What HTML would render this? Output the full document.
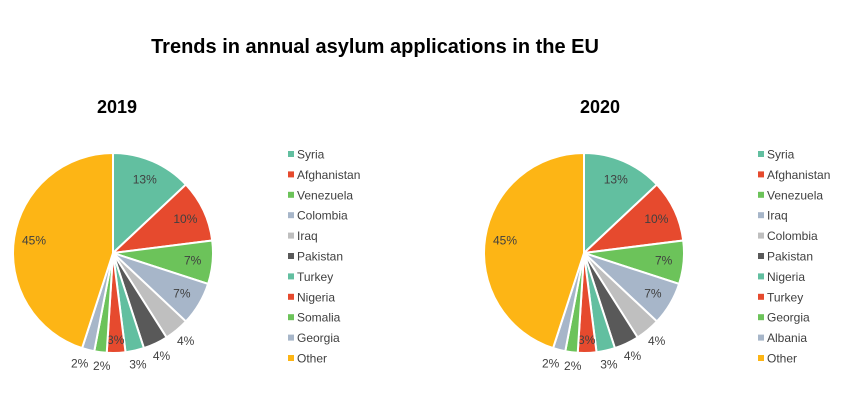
<!DOCTYPE html>
<html><head><meta charset="utf-8">
<style>
body{margin:0;background:#fff;}
svg{display:block;font-family:"Liberation Sans",Calibri,sans-serif;}
</style></head>
<body>
<svg id="chart" width="850" height="412" viewBox="0 0 850 412">
<text x="375" y="53" text-anchor="middle" font-size="20" font-weight="bold" fill="#000">Trends in annual asylum applications in the EU</text>
<text x="117" y="113" text-anchor="middle" font-size="18" font-weight="bold" fill="#000">2019</text>
<text x="600" y="113" text-anchor="middle" font-size="18" font-weight="bold" fill="#000">2020</text>
</svg>
<script>
const categories2019 = ["Syria","Afghanistan","Venezuela","Colombia","Iraq","Pakistan","Turkey","Nigeria","Somalia","Georgia","Other"];
const values2019 = [13,10,7,7,4,4,3,3,2,2,45];
const categories2020 = ["Syria","Afghanistan","Venezuela","Iraq","Colombia","Pakistan","Nigeria","Turkey","Georgia","Albania","Other"];
const values2020 = [13,10,7,7,4,4,3,3,2,2,45];
const colors = ["#62BFA0","#E64A2E","#6CC35A","#A7B6C9","#BFBFBF","#595959","#62BFA0","#E64A2E","#6CC35A","#A7B6C9","#FDB515"];

const svg = document.getElementById('chart');
const NS = "http://www.w3.org/2000/svg";
function mk(tag, attrs){const e=document.createElementNS(NS,tag);for(const k in attrs)e.setAttribute(k,attrs[k]);return e;}

function drawPie(cx, cy, r, cats, vals, legendX, key){
  const total = vals.reduce((a,b)=>a+b,0);
  let a0 = -Math.PI/2;
  vals.forEach((v,i)=>{
    const a1 = a0 + v/total*2*Math.PI;
    const x0=cx+r*Math.cos(a0), y0=cy+r*Math.sin(a0);
    const x1=cx+r*Math.cos(a1), y1=cy+r*Math.sin(a1);
    const large = (a1-a0)>Math.PI?1:0;
    const p = mk('path',{d:`M${cx},${cy} L${x0},${y0} A${r},${r} 0 ${large} 1 ${x1},${y1} Z`,fill:colors[i],stroke:'#fff','stroke-width':2});
    
    
    svg.appendChild(p);
    const am=(a0+a1)/2;
    const frac=v/total;
    let lr, nudge=0;
    if(frac>=0.05) lr=r*0.8; else if(i===7) lr=r*0.87; else lr=r*1.14;
    if(i===8) nudge=3; if(i===9) nudge=-5;
    const t = mk('text',{x:cx+lr*Math.cos(am)+nudge,y:cy+lr*Math.sin(am)+4,'text-anchor':'middle','font-size':12,fill:'#404040'});
    t.textContent = Math.round(frac*100)+'%';
    
    
    svg.appendChild(t);
    a0=a1;
  });
  cats.forEach((c,i)=>{
    const y = 154 + i*20.4;
    const g = mk('g',{});
    
    
    g.appendChild(mk('rect',{x:legendX,y:y-3,width:6,height:6,fill:colors[i]}));
    const t = mk('text',{x:legendX+9,y:y+4.5,'font-size':12,fill:'#404040'});
    t.textContent=c;
    g.appendChild(t);
    svg.appendChild(g);
  });
}
drawPie(113,253,100,categories2019,values2019,288,'2019');
drawPie(584,253,100,categories2020,values2020,758,'2020');
</script>
</body></html>
